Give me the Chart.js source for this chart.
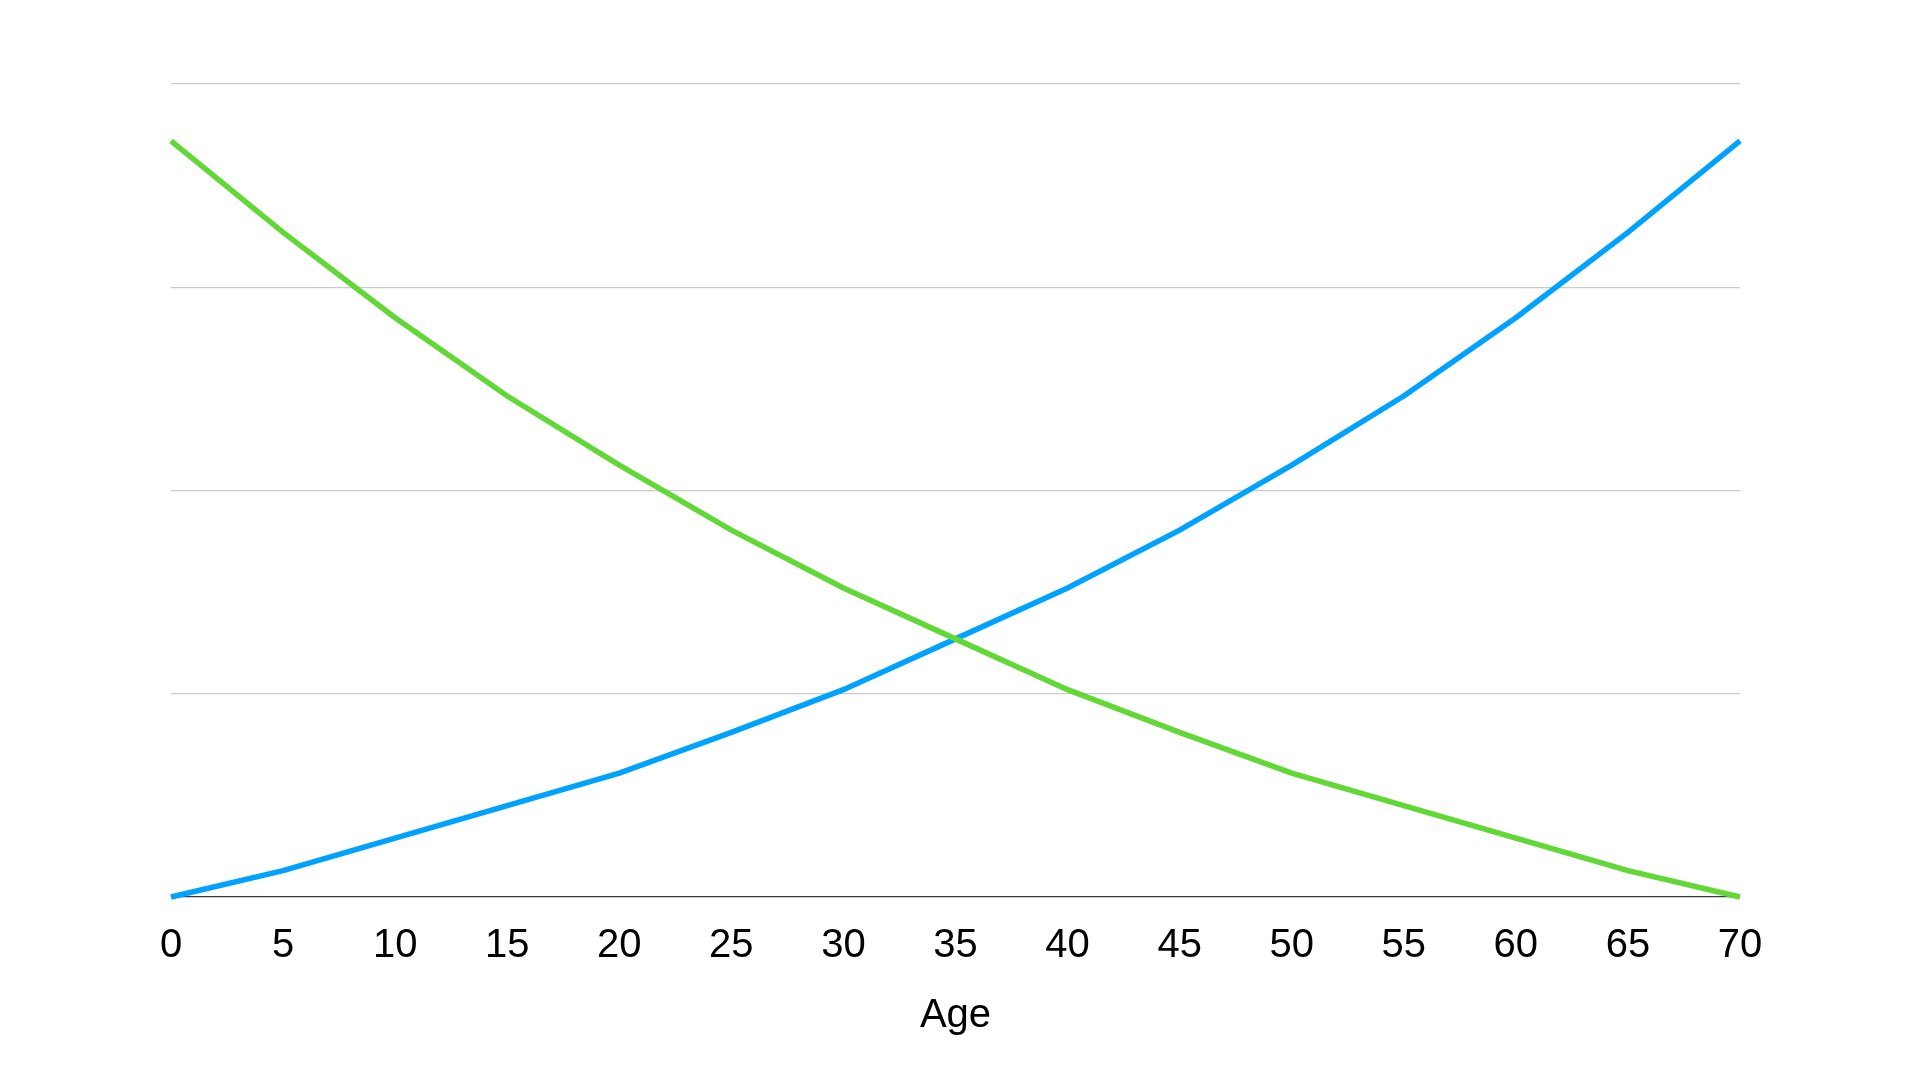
<!DOCTYPE html>
<html>
<head>
<meta charset="utf-8">
<title>Age chart</title>
<script src="https://cdn.jsdelivr.net/npm/chart.js@4.4.1/dist/chart.umd.min.js"></script>
<style>
  html, body { margin: 0; padding: 0; background: #fff; }
  #wrap { width: 1920px; height: 1080px; }
</style>
</head>
<body>
<div id="wrap"><canvas id="chart" width="1920" height="1080"></canvas></div>
<script>
// ── Data ──────────────────────────────────────────────────────────────────
const ages = [0, 5, 10, 15, 20, 25, 30, 35, 40, 45, 50, 55, 60, 65, 70];
const rising = [0, 0.13, 0.29, 0.45, 0.61, 0.81, 1.02, 1.27, 1.52, 1.805, 2.125, 2.465, 2.85, 3.27, 3.72];
const falling = [3.72, 3.27, 2.85, 2.465, 2.125, 1.805, 1.52, 1.27, 1.02, 0.81, 0.61, 0.45, 0.29, 0.13, 0];
const xTicks = [0, 5, 10, 15, 20, 25, 30, 35, 40, 45, 50, 55, 60, 65, 70];

const FONT = '"Liberation Sans", Arial, Helvetica, sans-serif';

// ── Chart setup ───────────────────────────────────────────────────────────
const ctx = document.getElementById('chart').getContext('2d');
new Chart(ctx, {
  type: 'line',
  data: {
    datasets: [
      {
        label: 'Falling',
        data: ages.map((a, i) => ({ x: a, y: falling[i] })),
        borderColor: '#61D836',
        borderWidth: 5.5,
        pointRadius: 0,
        tension: 0,
        clip: false,
      },
      {
        label: 'Rising',
        data: ages.map((a, i) => ({ x: a, y: rising[i] })),
        borderColor: '#00A2FF',
        borderWidth: 5.5,
        pointRadius: 0,
        tension: 0,
        clip: false,
      },
    ],
  },
  options: {
    responsive: false,
    animation: false,
    layout: { padding: { left: 171, right: 180, top: 84, bottom: 40 } },
    plugins: { legend: { display: false }, tooltip: { enabled: false } },
    scales: {
      x: {
        type: 'linear',
        min: 0,
        max: 70,
        afterBuildTicks: (axis) => { axis.ticks = xTicks.map((v) => ({ value: v })); },
        grid: { display: false, drawTicks: false },
        border: { display: false },
        ticks: { color: '#000', font: { family: FONT, size: 40 }, padding: 25, maxRotation: 0 },
        title: {
          display: true,
          text: 'Age',
          color: '#000',
          font: { family: FONT, size: 40 },
          padding: { top: -3, bottom: 0 },
        },
      },
      y: {
        min: 0,
        max: 4,
        ticks: { display: false, stepSize: 1 },
        grid: {
          drawTicks: false,
          lineWidth: 1.2,
          color: (c) => (c.tick && c.tick.value === 0 ? '#3a3a3a' : '#cbcbcb'),
        },
        border: { display: false },
      },
    },
  },
});
</script>
</body>
</html>
